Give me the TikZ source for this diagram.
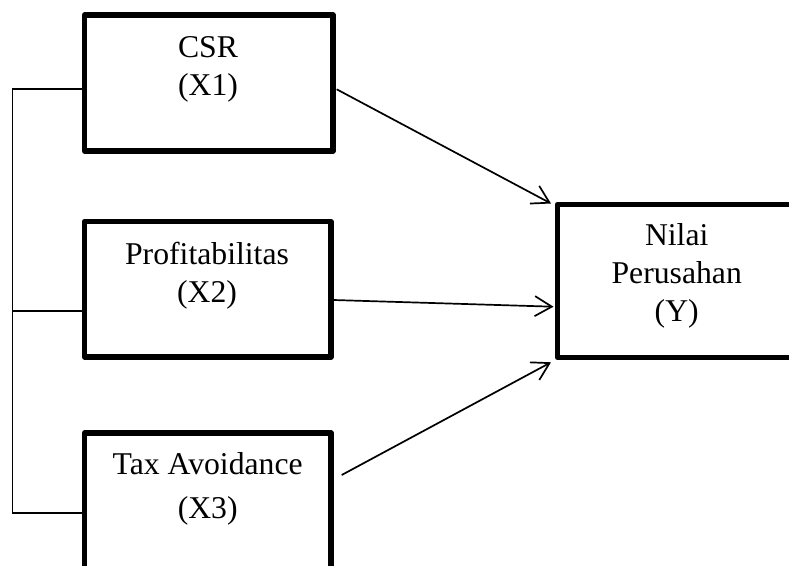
\documentclass[tikz,border=0pt]{standalone}
\usepackage{fontspec}
\setmainfont{Liberation Serif}
\usetikzlibrary{arrows.meta}
\begin{document}
\begin{tikzpicture}[x=1pt,y=-1pt,
  box/.style={draw, line width=5.2pt, line join=round, inner sep=0pt, outer sep=0pt},
  lbl/.style={align=center, font=\fontsize{31.7}{38}\selectfont, inner sep=0pt, anchor=base},
  link/.style={line width=1.4pt},
  arr/.style={line width=1.7pt, -{Straight Barb[length=17pt,width=20pt]}}]
\clip (0,0) rectangle (789,565);
\fill[white] (0,0) rectangle (789,565);

% boxes
\node[box, minimum width=248.5pt, minimum height=136pt] (csr) at (208.75,83) {};
\node[box, minimum width=246.5pt, minimum height=135.5pt] (prof) at (207.75,289.25) {};
\node[box, minimum width=246.5pt, minimum height=136pt] (tax) at (207.75,501) {};
\node[box, minimum width=238.5pt, minimum height=153pt] (nilai) at (676.75,281) {};

% labels (anchor = baseline of last line)
\node[lbl] (csrT) at (208,95) {CSR\\(X1)};
\node[lbl] (profT) at (207,302) {Profitabilitas\\(X2)};
\node[lbl] (taxT) at (207.7,518) {Tax Avoidance\\[6pt](X3)};
\node[lbl] (nilaiT) at (676.7,321) {Nilai\\Perusahan\\(Y)};

% left bracket
\coordinate (b1) at (12.5,89);
\coordinate (b2) at (12.5,311);
\coordinate (b3) at (12.5,513);
\draw[link] (csr.west |- b1) -- (b1) -- (b3) -- (tax.west |- b3);
\draw[link] (b2) -- (prof.west |- b2);

% arrows
\coordinate (s1) at (336.7,89.3);
\coordinate (e1) at (551,203.5);
\coordinate (s2) at (333.5,300);
\coordinate (e2) at (553.5,306.7);
\coordinate (s3) at (341.7,475);
\coordinate (e3) at (551,362.3);
\draw[arr] (s1) -- (e1);
\draw[arr] (s2) -- (e2);
\draw[arr] (s3) -- (e3);
\end{tikzpicture}
\end{document}
